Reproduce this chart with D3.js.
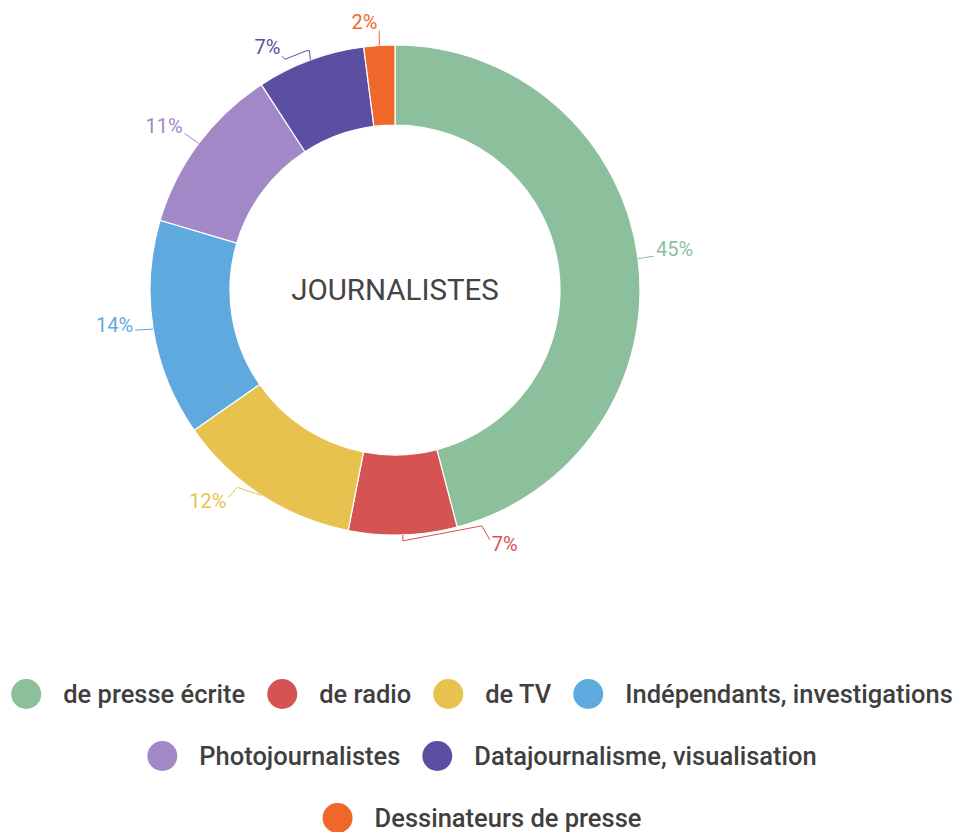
<!DOCTYPE html>
<html><head><meta charset="utf-8">
<script src="https://cdn.jsdelivr.net/npm/d3@7"></script>
<style>html,body{margin:0;padding:0;background:#fff;}svg{display:block;font-family:Roboto,"Noto Sans",sans-serif;}</style>
</head><body>
<svg id="chart" width="957" height="832"></svg>
<script>
const categories = ["de presse écrite","de radio","de TV","Indépendants, investigations","Photojournalistes","Datajournalisme, visualisation","Dessinateurs de presse"];
const values = [45, 7, 12, 14, 11, 7, 2];
const colors = ["#8cbf9c","#d55352","#e8c24f","#5eaadf","#a288c6","#5b4fa4","#f0672b"];
const centerTitle = "JOURNALISTES";
const legendRows = [4, 2, 1]; // number of legend items on each row

// label leader layout (offsets from the slice's outer mid point)
const labelLayout = [
  {pts:[[16,-2.5]], text:[18,-2.5], anchor:"start"},
  {pts:[[0,6],[79,-9],[87,5]], text:[89,16], anchor:"start"},
  {pts:[[-24,-8],[-33,2]], text:[-35,13], anchor:"end"},
  {pts:[[-18,1]], text:[-20,3], anchor:"end"},
  {pts:[[-14,-10]], text:[-16,-10], anchor:"end"},
  {pts:[[-1,-9.4],[-3.7,-9.4],[-25.4,-0.8],[-28.7,-4]], text:[-30,-6], anchor:"end"},
  {pts:[[0,-15]], text:[-2,-17], anchor:"end"}
];

const svg = d3.select("#chart");
const cx = 395, cy = 290, R = 245, r = 165;
const data = categories.map((c,i)=>({name:c, value:values[i], color:colors[i], i}));
const pie = d3.pie().value(d=>d.value).sort(null);
const arcs = pie(data);
const arc = d3.arc().innerRadius(r).outerRadius(R);
const g = svg.append("g").attr("transform",`translate(${cx},${cy})`);
g.selectAll("path.slice").data(arcs).join("path")
  .attr("class","slice")
  .attr("d",arc)
  .attr("fill",d=>d.data.color)
  .attr("stroke","#fff").attr("stroke-width",1.2);

g.append("text").attr("x",0).attr("y",0).attr("dy","0.35em")
  .attr("text-anchor","middle").attr("font-size",29.5).attr("fill","#444")
  .text(centerTitle);

arcs.forEach((a,i)=>{
  const m = (a.startAngle+a.endAngle)/2;
  const ax = R*Math.sin(m), ay = -R*Math.cos(m);
  const L = labelLayout[i];
  const pts = [[ax,ay]].concat(L.pts.map(p=>[ax+p[0], ay+p[1]]));
  g.append("path").attr("d", d3.line()(pts)).attr("fill","none")
    .attr("stroke",a.data.color).attr("stroke-width",1);
  g.append("text").attr("x",ax+L.text[0]).attr("y",ay+L.text[1])
    .attr("text-anchor",L.anchor).attr("font-size",20).attr("fill",a.data.color)
    .text(a.data.value+"%");
});

// legend
const legendFont = 25.5, cr = 15, gapIn = 22, gapOut = 22, legendCx = 482;
const rowY = [694, 756, 818];
const tmp = svg.append("text").attr("font-size",legendFont).attr("font-weight",500);
const items = data.map(d=>{ tmp.text(d.name); return {d, w: tmp.node().getComputedTextLength()}; });
tmp.remove();
const rows = []; let k = 0;
legendRows.forEach(n=>{
  const its = items.slice(k, k+n); k += n;
  const w = d3.sum(its, it=>2*cr+gapIn+it.w) + gapOut*(its.length-1);
  rows.push({items:its, w});
});
const lg = svg.append("g");
rows.forEach((row,ri)=>{
  let x = legendCx - row.w/2; const y = rowY[ri];
  row.items.forEach(it=>{
    lg.append("circle").attr("cx",x+cr).attr("cy",y).attr("r",cr).attr("fill",it.d.color);
    lg.append("text").attr("x",x+2*cr+gapIn).attr("y",y+9).attr("font-size",legendFont)
      .attr("font-weight",500).attr("fill","#3f3f3f").text(it.d.name);
    x += 2*cr + gapIn + it.w + gapOut;
  });
});
</script>
</body></html>
